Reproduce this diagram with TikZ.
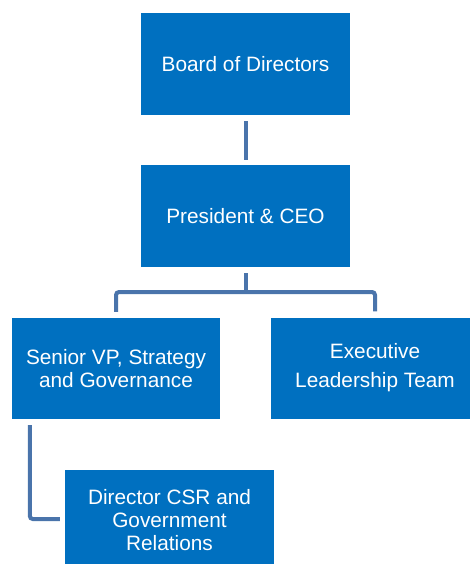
\documentclass[tikz,border=0pt]{standalone}
\usepackage{fontspec}
\setmainfont{Liberation Sans}
\definecolor{boxblue}{HTML}{0070C0}
\definecolor{linkblue}{HTML}{4A74AB}
\begin{document}
\begin{tikzpicture}[x=1pt,y=-1pt,
  orgbox/.style={rectangle, fill=boxblue, draw=none, text=white, align=center,
    inner sep=0pt, minimum width=209pt, minimum height=102pt,
    font=\fontsize{20.8}{23}\selectfont},
  conn/.style={draw=linkblue, line width=4pt, rounded corners=3pt}]
\useasboundingbox (0,0) rectangle (469,564);
\node[orgbox] (board) at (245.5,64) {Board of Directors};
\node[orgbox] (pres) at (245.5,216) {President \& CEO};
\node[orgbox, minimum width=208pt, minimum height=101pt] (svp) at (116,368.5) {Senior VP, Strategy\\and Governance};
\node[orgbox, minimum width=208pt, minimum height=101pt, font=\fontsize{20.8}{29}\selectfont] (elt) at (375,368) {Executive\\Leadership Team};
\node[orgbox, minimum width=209pt, minimum height=100pt] (dir) at (169.5,520) {Director CSR and\\Government\\Relations};
\coordinate (j) at (245.5,292);
\draw[conn] ([yshift=-6pt]board.south) -- ([yshift=5pt]pres.north);
\draw[conn] ([yshift=-6pt]pres.south) -- (j);
\draw[conn] ([yshift=6pt]svp.north) -- (svp.north |- j) -- (elt.north |- j) -- ([yshift=6pt]elt.north);
\draw[conn] ([xshift=18pt,yshift=-6pt]svp.south west) |- ([xshift=-5pt,yshift=1pt]dir.west);
\end{tikzpicture}
\end{document}
